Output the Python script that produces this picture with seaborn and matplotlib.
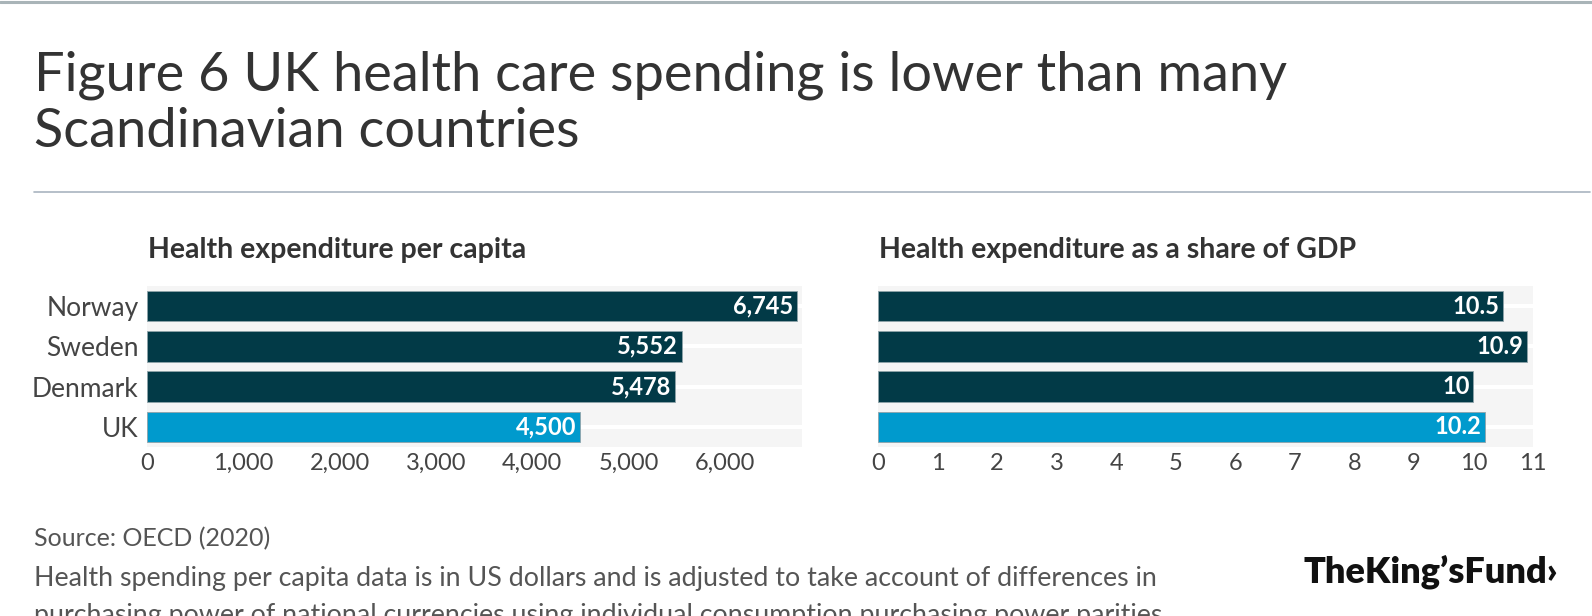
import numpy as np
import pandas as pd
import matplotlib
matplotlib.use("Agg")
import matplotlib.pyplot as plt
import seaborn as sns
from matplotlib.lines import Line2D

sns.set_theme(style="white")
plt.rcParams['font.family'] = ['Lato', 'DejaVu Sans']

# Dados
paises = ["Norway", "Sweden", "Denmark", "UK"]
gasto_per_capita = [6745, 5552, 5478, 4500]
gasto_pib = [10.5, 10.9, 10.0, 10.2]
rotulos_per_capita = ["6,745", "5,552", "5,478", "4,500"]
rotulos_pib = ["10.5", "10.9", "10", "10.2"]
ticks_per_capita = [0, 1000, 2000, 3000, 4000, 5000, 6000]
ticks_pib = list(range(0, 12))

cor_escura = "#023a47"
cor_uk = "#009acd"
cores = {p: (cor_uk if p == "UK" else cor_escura) for p in paises}

df = pd.DataFrame({"pais": paises, "per_capita": gasto_per_capita, "pib": gasto_pib})

fig = plt.figure(figsize=(15.92, 6.16), dpi=100)
W, H = 1592, 616

def px(x, y):
    return x / W, 1 - y / H

# Linha do topo e separador
fig.add_artist(Line2D([0, 1], [1 - 1.5 / H] * 2, color="#a9b4b8", lw=2.2))
fig.add_artist(Line2D([34 / W, 1590 / W], [1 - 192 / H] * 2, color="#a9b4c0", lw=1.2))

# Titulo
fig.text(*px(34, 91), "Figure 6 UK health care spending is lower than many",
         fontsize=39, color="#333333", va="baseline")
fig.text(*px(34, 147), "Scandinavian countries",
         fontsize=39, color="#333333", va="baseline")

def desenha(ax, col, rotulos, ticks, xmax, fmt):
    ax.set_facecolor("#f5f5f5")
    sns.barplot(data=df, y="pais", x=col, hue="pais", palette=cores, order=paises,
                width=0.76, saturation=1, legend=False, ax=ax, zorder=3,
                edgecolor="#8fa3aa", linewidth=0.6)
    ax.set_xlim(0, xmax)
    ax.set_ylim(3.5, -0.5)
    ax.set_xticks(ticks)
    ax.set_xticklabels([fmt(t) for t in ticks])
    ax.grid(axis="y", color="white", lw=3, zorder=1)
    ax.grid(axis="x", visible=False)
    ax.set_axisbelow(True)
    ax.tick_params(axis="both", length=0, labelcolor="#444444")
    ax.tick_params(axis="y", pad=6, labelsize=19)
    ax.tick_params(axis="x", pad=4, labelsize=17)
    ax.set_xlabel("")
    ax.set_ylabel("")
    for s in ax.spines.values():
        s.set_visible(False)
    for i, v in enumerate(df[col]):
        ax.text(v - xmax * 0.006, i, rotulos[i], color="white", fontweight="bold",
                fontsize=17, ha="right", va="center", zorder=4)

ax1 = fig.add_axes([147 / W, 1 - 447 / H, 655 / W, 161 / H])
desenha(ax1, "per_capita", rotulos_per_capita, ticks_per_capita, 6800, lambda t: f"{t:,}")

ax2 = fig.add_axes([878 / W, 1 - 447 / H, 655 / W, 161 / H])
desenha(ax2, "pib", rotulos_pib, ticks_pib, 11, lambda t: f"{t}")
ax2.set_yticklabels([])

# Subtitulos
fig.text(*px(148, 258), "Health expenditure per capita", fontsize=20.5, fontweight="bold",
         color="#333333", va="baseline")
fig.text(*px(879, 258), "Health expenditure as a share of GDP", fontsize=20.5, fontweight="bold",
         color="#333333", va="baseline")

# Rodape
fig.text(*px(34, 546), "Source: OECD (2020)", fontsize=18, color="#555555", va="baseline")
fig.text(*px(34, 586), "Health spending per capita data is in US dollars and is adjusted to take account of differences in",
         fontsize=19.3, color="#555555", va="baseline")
fig.text(*px(34, 623), "purchasing power of national currencies using individual consumption purchasing power parities",
         fontsize=19.3, color="#555555", va="baseline")

fig.text(*px(1558, 572), "TheKing\u2019sFund\u203a", fontsize=26, fontweight="heavy",
         color="#111111", ha="right", va="center")

fig.savefig("out.png", dpi=100)
